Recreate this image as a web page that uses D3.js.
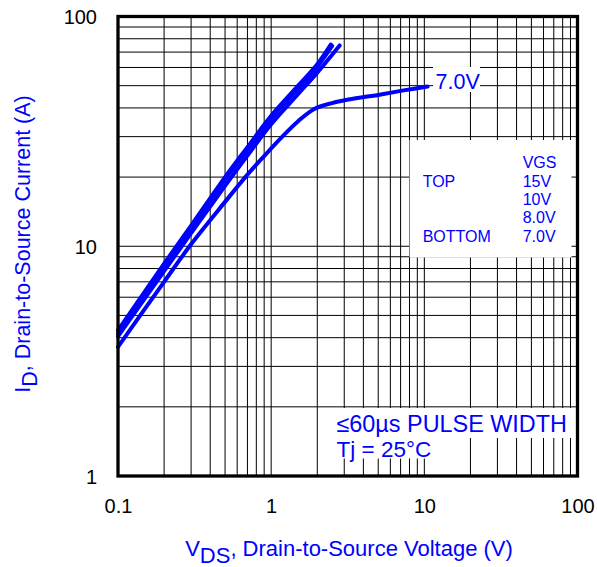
<!DOCTYPE html>
<html>
<head>
<meta charset="utf-8">
<script src="https://cdn.jsdelivr.net/npm/d3@7"></script>
<style>
  html, body { margin: 0; padding: 0; background: #fff; }
  svg { display: block; }
  text { font-family: "Liberation Sans", Arial, Helvetica, sans-serif; }
</style>
</head>
<body>
<svg id="chart" width="597" height="567"></svg>
<script>
// Output characteristics: drain current vs drain-source voltage, per gate voltage
const xTickValues = [0.1, 1, 10, 100];
const xTickLabels = ["0.1", "1", "10", "100"];
const yTickValues = [1, 10, 100];
const yTickLabels = ["1", "10", "100"];

const seriesNames = ["15V", "10V", "8.0V", "7.0V"];

const vds15 = [0.1, 0.2, 0.3, 0.5, 0.7, 1.0, 1.5, 2.0, 2.45];
const id15  = [4.3, 8.4, 12.3, 20.0, 27.0, 37.0, 50.0, 62.0, 75.5];

const vds10 = [0.1, 0.2, 0.3, 0.5, 0.7, 1.0, 1.5, 2.0, 2.5];
const id10  = [4.18, 8.2, 12.0, 19.5, 26.3, 36.0, 48.5, 60.5, 74.5];

const vds8 = [0.1, 0.2, 0.3, 0.5, 0.7, 1.0, 1.5, 2.0, 2.8];
const id8  = [4.05, 7.8, 11.4, 18.3, 24.8, 34.0, 46.0, 57.0, 74.8];

const vds7 = [0.1, 0.2, 0.3, 0.5, 0.7, 0.9, 1.2, 1.5, 1.9, 2.5, 3.2, 5.2, 7.5, 10.5];
const id7  = [3.65, 7.0, 10.2, 15.6, 20.5, 24.7, 30.3, 35.0, 39.5, 42.0, 43.5, 45.8, 47.8, 49.6];

const legendRows = [
  { left: "",       right: "VGS" },
  { left: "TOP",    right: "15V" },
  { left: "",       right: "10V" },
  { left: "",       right: "8.0V" },
  { left: "BOTTOM", right: "7.0V" }
];
const noteLines = ["\u226460\u00b5s PULSE WIDTH", "Tj = 25\u00b0C"];
const curveLabel = "7.0V";

const blue = "#0000ff";

const svg = d3.select("#chart");
const plot = { left: 118, right: 577.5, top: 16.5, bottom: 476 };

const x = d3.scaleLog().domain([0.1, 100]).range([plot.left, plot.right]);
const y = d3.scaleLog().domain([1, 100]).range([plot.bottom, plot.top]);

// log grid: every integer multiple within each decade
function gridValues(lo, hi) {
  const out = [];
  for (let d = lo; d < hi; d *= 10) {
    for (let k = 1; k <= 9; k++) out.push(+(d * k).toPrecision(6));
  }
  out.push(hi);
  return out;
}
const xGrid = gridValues(0.1, 100).filter(v => v > 0.1 && v < 100);
const yGrid = gridValues(1, 100).filter(v => v > 1 && v < 100);

const grid = svg.append("g");
grid.selectAll("line.v").data(xGrid).join("line")
  .attr("x1", d => x(d)).attr("x2", d => x(d))
  .attr("y1", plot.top).attr("y2", plot.bottom)
  .attr("stroke", "#000").attr("stroke-width", 1);
grid.selectAll("line.h").data(yGrid).join("line")
  .attr("y1", d => y(d)).attr("y2", d => y(d))
  .attr("x1", plot.left).attr("x2", plot.right)
  .attr("stroke", "#000").attr("stroke-width", 1);

// white panel behind the gate-voltage legend
svg.append("rect")
  .attr("x", 409.5).attr("y", 140).attr("width", 162).attr("height", 117.5)
  .attr("fill", "#fff");

// white strips behind the test-condition note
svg.append("rect").attr("x", 334).attr("y", 408).attr("width", 238).attr("height", 30).attr("fill", "#fff");
svg.append("rect").attr("x", 334).attr("y", 438).attr("width", 98).attr("height", 20.5).attr("fill", "#fff");

// curves
const series = [
  { name: seriesNames[0], v: vds15, i: id15 },
  { name: seriesNames[1], v: vds10, i: id10 },
  { name: seriesNames[2], v: vds8,  i: id8 },
  { name: seriesNames[3], v: vds7,  i: id7 }
];
const line = d3.line()
  .x(d => x(d[0])).y(d => y(d[1]))
  .curve(d3.curveCatmullRom.alpha(0.5));

svg.append("g").selectAll("path").data(series).join("path")
  .attr("d", s => line(s.v.map((v, k) => [v, s.i[k]])))
  .attr("fill", "none")
  .attr("stroke", blue)
  .attr("stroke-width", 4)
  .attr("stroke-linecap", "round")
  .attr("stroke-linejoin", "round");

// frame
svg.append("rect")
  .attr("x", plot.left).attr("y", plot.top)
  .attr("width", plot.right - plot.left).attr("height", plot.bottom - plot.top)
  .attr("fill", "none").attr("stroke", "#000").attr("stroke-width", 3.3);

// axes labels (ticks hidden, labels only)
const xAxis = d3.axisBottom(x).tickValues(xTickValues)
  .tickFormat((d, k) => xTickLabels[k]).tickSize(0).tickPadding(0);
const gx = svg.append("g").attr("transform", `translate(0,${plot.bottom})`).call(xAxis);
gx.select(".domain").remove();
gx.selectAll("text")
  .attr("y", 37).attr("dy", null)
  .attr("font-size", 20).attr("fill", "#000")
  .style("font-family", "'Liberation Sans', Arial, sans-serif");

const yAxis = d3.axisLeft(y).tickValues(yTickValues)
  .tickFormat((d, k) => yTickLabels[k]).tickSize(0).tickPadding(0);
const gy = svg.append("g").attr("transform", `translate(97,0)`).call(yAxis);
gy.select(".domain").remove();
gy.selectAll("text")
  .attr("x", 0).attr("dy", "0.36em")
  .attr("font-size", 20).attr("fill", "#000")
  .style("font-family", "'Liberation Sans', Arial, sans-serif");

// axis titles
const xt = svg.append("text")
  .attr("x", 349).attr("y", 556)
  .attr("text-anchor", "middle").attr("font-size", 22).attr("fill", blue);
xt.append("tspan").text("V");
xt.append("tspan").attr("dy", 6.5).text("DS");
xt.append("tspan").attr("dy", -6.5).text(", Drain-to-Source Voltage (V)");

const yt = svg.append("text")
  .attr("transform", "translate(30,244) rotate(-90)")
  .attr("text-anchor", "middle").attr("font-size", 21.5).attr("fill", blue);
yt.append("tspan").text("I");
yt.append("tspan").attr("dy", 6.5).text("D");
yt.append("tspan").attr("dy", -6.5).text(", Drain-to-Source Current (A)");

// 7.0V end label
svg.append("rect").attr("x", 433).attr("y", 67).attr("width", 47).attr("height", 25).attr("fill", "#fff");
svg.append("text")
  .attr("x", x(vds7[vds7.length - 1]) + 8).attr("y", 89)
  .attr("font-size", 21.5).attr("fill", blue).text(curveLabel);

// legend
const lg = svg.append("g").attr("fill", blue).attr("font-size", 16);
legendRows.forEach((r, k) => {
  const by = 168.3 + k * 18.35;
  if (r.left) lg.append("text").attr("x", 422.7).attr("y", by).text(r.left);
  lg.append("text").attr("x", 522.7).attr("y", by).text(r.right);
});

// test conditions
svg.append("text").attr("x", 336.5).attr("y", 431.7)
  .attr("font-size", 23.4).attr("fill", blue).text(noteLines[0]);
svg.append("text").attr("x", 336.5).attr("y", 457.3)
  .attr("font-size", 22.5).attr("fill", blue).text(noteLines[1]);
</script>
</body>
</html>
